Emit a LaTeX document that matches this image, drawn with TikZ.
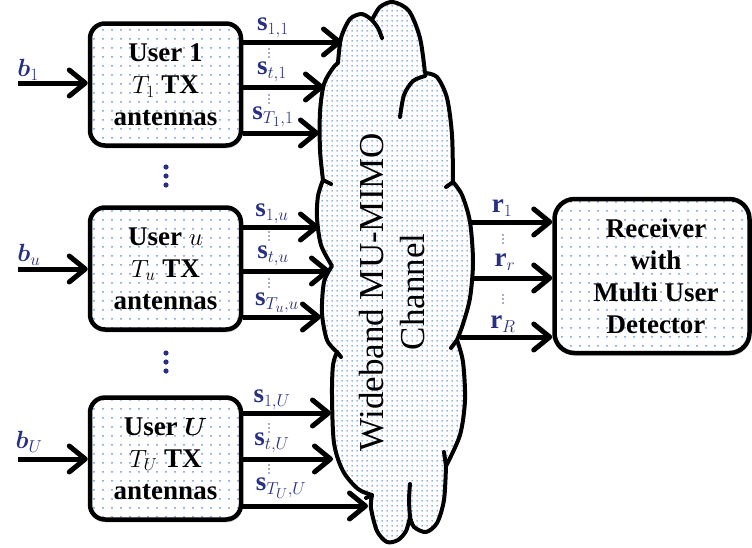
\documentclass[tikz,border=0pt]{standalone}
\usepackage{amsmath}
\usepackage{fontspec}
\setmainfont{Liberation Serif}[BoldFont={Liberation Serif Bold},
  ItalicFont={Liberation Serif Italic}, BoldItalicFont={Liberation Serif Bold Italic}]
\usetikzlibrary{arrows.meta, patterns.meta, shadows, positioning}

\definecolor{labelblue}{RGB}{40,48,130}
\definecolor{dotblue}{RGB}{105,150,220}

\tikzdeclarepattern{
  name=finedots, type=uncolored,
  tile size={(5pt,5pt)},
  bottom left={(0pt,0pt)}, top right={(5pt,5pt)},
  code={\pgfpathcircle{\pgfpoint{2.5pt}{2.5pt}}{1pt}\pgfusepath{fill}}
}
\tikzdeclarepattern{
  name=sparsedots, type=uncolored,
  tile size={(9pt,9pt)},
  bottom left={(0pt,0pt)}, top right={(9pt,9pt)},
  code={\pgfpathcircle{\pgfpoint{4.5pt}{4.5pt}}{1.1pt}\pgfusepath{fill}}
}

\tikzset{
  userbox/.style={draw, line width=4.5pt, rounded corners=15pt,
    minimum width=151pt, minimum height=122pt, align=center,
    font=\fontsize{27}{32}\selectfont\bfseries,
    drop shadow={shadow xshift=1pt, shadow yshift=-3pt, opacity=0.25},
    preaction={fill=white}, pattern=sparsedots, pattern color=dotblue},
  rxbox/.style={userbox, rounded corners=20pt,
    minimum width=195pt, minimum height=154pt},
  sig/.style={line width=5pt, -{Straight Barb[length=16pt, width=26pt, round]}},
  lab/.style={text=labelblue, font=\fontsize{27}{30}\selectfont, inner sep=0pt},
  cloudline/.style={line width=4pt, line join=round, line cap=round},
}

\begin{document}
\begin{tikzpicture}[x=1pt, y=-1pt]
  \useasboundingbox (0,0) rectangle (752,547);

  % channel cloud
  \path[draw, cloudline, preaction={fill=white}, pattern=finedots, pattern color=dotblue]
    plot[smooth] coordinates {(338,63) (341,38) (350,19) (362,14) (372,20)}
    -- plot[smooth] coordinates {(372,20) (380,7) (393,2) (409,11) (420,38) (425,73)}
    -- plot[smooth] coordinates {(425,73) (437,77) (447,98) (452,135) (453,182)}
    -- plot[smooth] coordinates {(453,182) (462,195) (470,222) (473,262) (470,298) (463,324) (457,340)}
    -- plot[smooth] coordinates {(457,340) (463,362) (465,400) (460,435) (446,466)}
    -- plot[smooth] coordinates {(446,466) (444,500) (437,523) (426,532) (414,527) (410,517)}
    -- plot[smooth] coordinates {(410,517) (406,531) (398,540) (387,542) (377,531) (371,508) (372,495)}
    -- plot[smooth] coordinates {(372,495) (358,489) (343,471) (334,443) (332,395) (333,365) (337,352)}
    -- plot[smooth] coordinates {(337,352) (327,340) (322,313) (324,282) (332,266)}
    -- plot[smooth] coordinates {(332,266) (321,245) (317,218) (318,196) (323,180)}
    -- plot[smooth] coordinates {(323,180) (320,150) (320,112) (324,84) (333,68) (338,63)}
    -- cycle;
  % inner strokes of the cloud
  \draw[cloudline] plot[smooth] coordinates {(372,20) (378,28) (382,38)};
  \draw[cloudline] plot[smooth] coordinates {(400,117) (404,95) (413,81) (425,76)};
  \draw[cloudline] (453,182) -- (446,187);
  \draw[cloudline] (457,340) -- (451,348);
  \draw[cloudline] (446,466) -- (444,452);
  \draw[cloudline] plot[smooth] coordinates {(410,517) (409,500) (410,484)};
  \draw[cloudline] (372,495) -- (366,498);
  \draw[cloudline] (337,352) -- (341,357);
  \draw[cloudline] (323,180) -- (331,184);

  \node[font=\fontsize{35}{41}\selectfont, rotate=90, align=center] (chan) at (392,292)
    {Wideband MU-MIMO\\Channel};

  % users
  \node[userbox] (user1) at (165.5,84.5) {User 1\\$T_1$ TX\\antennas};
  \node[userbox] (useru) at (165.5,268.5) {User $u$\\$T_u$ TX\\antennas};
  \node[userbox] (userU) at (165.5,458.5) {User $\boldsymbol{U}$\\$T_U$ TX\\antennas};

  % receiver
  \node[rxbox] (rx) at (652,276) {\hspace*{8pt}Receiver\\\hspace*{8pt}with\\\hspace*{8pt}Multi User\\\hspace*{8pt}Detector};

  % vertical dots between users
  \foreach \dy in {0,9,18} {
    \fill[labelblue] (166,167+\dy) circle (2.6);
    \fill[labelblue] (166,353+\dy) circle (2.6);
  }
  % small dots between the stream labels
  \foreach \x/\y in {269/49, 269/95, 269/232, 269/279, 269/424, 269/465, 503/235, 503/295}
    \foreach \dy in {0,4,8}
      \fill[labelblue!80] (\x,\y+\dy) circle (0.9);

  % inputs
  \coordinate (bin1) at (18,83);
  \coordinate (binu) at (18,269);
  \coordinate (binU) at (18,459);
  \draw[sig] (bin1) -- (user1.west |- bin1);
  \draw[sig] (binu) -- (useru.west |- binu);
  \draw[sig] (binU) -- (userU.west |- binU);
  \node[lab] (lb1) at (28,70) {$\boldsymbol{b}_1$};
  \node[lab] (lbu) at (29,255) {$\boldsymbol{b}_u$};
  \node[lab] (lbU) at (29,442) {$\boldsymbol{b}_U$};

  % transmit streams into the channel
  \coordinate (in11) at (342,42);
  \coordinate (in12) at (324,87);
  \coordinate (in13) at (319,133);
  \coordinate (inu1) at (319,227);
  \coordinate (inu2) at (330,271);
  \coordinate (inu3) at (321,317);
  \coordinate (inU1) at (331,413);
  \coordinate (inU2) at (333,459);
  \coordinate (inU3) at (368,506);
  \foreach \c in {11,12,13} \draw[sig] (user1.east |- in\c) -- (in\c);
  \foreach \c in {u1,u2,u3} \draw[sig] (useru.east |- in\c) -- (in\c);
  \foreach \c in {U1,U2,U3} \draw[sig] (userU.east |- in\c) -- (in\c);

  \node[lab] (s11) at (273,28) {$\mathbf{s}_{1,1}$};
  \node[lab] (st1) at (272,72) {$\mathbf{s}_{t,1}$};
  \node[lab] (sT1) at (273,117) {$\mathbf{s}_{T_1,1}$};

  \node[lab] (s1u) at (272,214) {$\mathbf{s}_{1,u}$};
  \node[lab] (stu) at (273,256) {$\mathbf{s}_{t,u}$};
  \node[lab] (sTu) at (277,303) {$\mathbf{s}_{T_u,u}$};

  \node[lab] (s1U) at (272,400) {$\mathbf{s}_{1,U}$};
  \node[lab] (stU) at (272,443) {$\mathbf{s}_{t,U}$};
  \node[lab] (sTU) at (281,488) {$\mathbf{s}_{T_U,U}$};

  % received streams
  \coordinate (out1) at (470,222);
  \coordinate (outr) at (472,278);
  \coordinate (outR) at (460,337);
  \draw[sig] (out1) -- (rx.west |- out1);
  \draw[sig] (outr) -- (rx.west |- outr);
  \draw[sig] (outR) -- (rx.west |- outR);
  \node[lab] (r1) at (502,208) {$\mathbf{r}_1$};
  \node[lab] (rr) at (505,262) {$\mathbf{r}_r$};
  \node[lab] (rR) at (503,324) {$\mathbf{r}_R$};
\end{tikzpicture}
\end{document}
